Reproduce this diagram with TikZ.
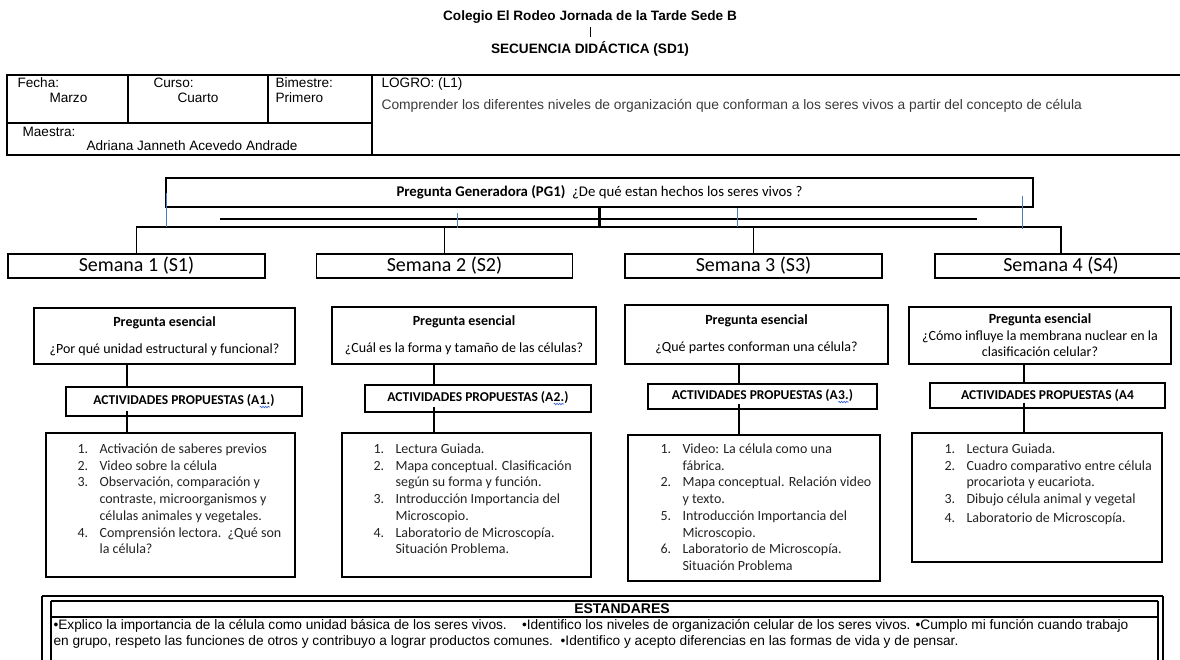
\documentclass[tikz,border=0pt]{standalone}
\usepackage{fontspec}
\setmainfont{Carlito}
\newfontfamily\arial{Liberation Sans}
\usetikzlibrary{calc,decorations.pathmorphing}
\definecolor{tickblue}{HTML}{4A7EBB}
\definecolor{squigblue}{HTML}{2E5BD8}
\definecolor{logrogray}{HTML}{3A3A3A}
\definecolor{bodytext}{HTML}{222222}
\newcommand\fsz[2]{\fontsize{#1}{#2}\selectfont}
% spell-check style wavy underline
\newcommand\squig[1]{\tikz[baseline=(sq.base)]{%
  \node[draw=none,fill=none,inner sep=0pt,outer sep=0pt,minimum width=0pt,minimum height=0pt] (sq) {#1};%
  \draw[draw=squigblue,line width=0.6pt,decorate,decoration={snake,amplitude=0.8pt,segment length=2.6pt}]
    ([yshift=-2pt]sq.south west) -- ([yshift=-2pt]sq.south east);}}
% list lines: numbered item and continuation line
\newcommand\itm[2]{\makebox[22pt][l]{#1}#2}
\newcommand\cnt[1]{\hspace*{22pt}#1}

\begin{document}
\begin{tikzpicture}[x=1pt,y=-1pt,
  line width=1.1pt,
  box/.style={draw=black, line width=1.1pt, inner sep=0pt},
  arialtxt/.style={font=\arial\fsz{13.6}{16}, inner sep=0pt},
  weekbox/.style={box, minimum height=24, font=\fsz{20}{22}},
  qbox/.style={box, align=center, font=\fsz{14}{16.5}},
  actbox/.style={box, font=\bfseries\fsz{13.5}{16}},
  listbox/.style={box},
  listtxt/.style={inner sep=0pt, align=left, text=bodytext, font=\fsz{14}{16.7}},
  link/.style={draw=black, line width=1.1pt},
  tick/.style={draw=tickblue, line width=0.9pt}
]
\useasboundingbox (0,0) rectangle (1180,659);

% ---------- heading ----------
\node[arialtxt, font=\arial\bfseries\fsz{13.6}{16}, anchor=base] (title) at (590,20) {Colegio El Rodeo Jornada de la Tarde Sede B};
\node[arialtxt, font=\arial\bfseries\fsz{13.6}{16}, anchor=base] (sd) at (590,53) {SECUENCIA DID\'ACTICA (SD1)};
\draw[line width=0.8pt] ($(title.south)+(0,4)$) -- ($(sd.north)+(0,-3)$);

% ---------- data table ----------
\draw[line width=1.2pt] (7,75) rectangle (1190,155);
\draw[line width=1.1pt] (128,75) -- (128,123) (268,75) -- (268,123)
  (372,75) -- (372,155) (7,123) -- (372,123);
\node[arialtxt, anchor=base west] (fecha) at (17,87) {Fecha:};
\node[arialtxt, anchor=base west] (marzo) at (49,102) {Marzo};
\node[arialtxt, anchor=base west] (curso) at (153,87) {Curso:};
\node[arialtxt, anchor=base west] (cuarto) at (177,102) {Cuarto};
\node[arialtxt, anchor=base west] (bim) at (275,87) {Bimestre:};
\node[arialtxt, anchor=base west] (prim) at (275,102) {Primero};
\node[arialtxt, anchor=base west] (maestra) at (22,136) {Maestra:};
\node[arialtxt, anchor=base west] (nombre) at (86,150) {Adriana Janneth Acevedo Andrade};
\node[arialtxt, anchor=base west] (logro) at (381,87) {LOGRO: (L1)};
\node[arialtxt, font=\arial\fsz{13.8}{16}, text=logrogray, anchor=base west] (logrotxt) at (381,109)
  {Comprender los diferentes niveles de organizaci\'on que conforman a los seres vivos a partir del concepto de c\'elula};

% ---------- generating question ----------
\node[box, minimum width=867, minimum height=29, font=\fsz{14.8}{16}] (pg) at (599.5,192.5)
  {\textbf{Pregunta Generadora (PG1)}\ \ ¿De qu\'e estan hechos los seres vivos ?};

% ---------- weeks ----------
\node[weekbox, minimum width=257] (S1) at (136.5,266) {Semana 1 (S1)};
\node[weekbox, minimum width=256] (S2) at (444.5,266) {Semana 2 (S2)};
\node[weekbox, minimum width=257] (S3) at (753.5,266) {Semana 3 (S3)};
\node[weekbox, minimum width=252] (S4) at (1061,266) {Semana 4 (S4)};

\coordinate (bus) at (0,227);
\coordinate (thinL) at (220,219);
\coordinate (thinR) at (977,219);
\draw[link] (S1.north) -- (S1.north |- bus) -- (S4.north |- bus) -- (S4.north);
\draw[link] (S2.north |- bus) -- (S2.north);
\draw[link] (S3.north |- bus) -- (S3.north);
\draw[link] (thinL) -- (thinR);
\draw[line width=2.4pt] (pg.south) -- (pg.south |- bus) -- (S3.north |- bus);

% blue marks over the bracket
\coordinate (m1a) at (166,193); \coordinate (m1b) at (166,227);
\coordinate (m2a) at (457,213); \coordinate (m2b) at (457,228);
\coordinate (m3a) at (737,208); \coordinate (m3b) at (737,227);
\coordinate (m4a) at (1022,196); \coordinate (m4b) at (1022,229);
\draw[tick] (m1a) -- (m1b) (m2a) -- (m2b) (m3a) -- (m3b) (m4a) -- (m4b);

% ---------- essential questions ----------
\node[qbox, minimum width=261, minimum height=56] (PE1) at (164.5,336)
  {\textbf{Pregunta esencial}\\[10.3pt]¿Por qu\'e unidad estructural y funcional?};
\node[qbox, minimum width=264, minimum height=57] (PE2) at (464,335.5)
  {\textbf{Pregunta esencial}\\[10.3pt]¿Cu\'al es la forma y tama\~no de las c\'elulas?};
\node[qbox, minimum width=263, minimum height=59] (PE3) at (756.5,334.5)
  {\textbf{Pregunta esencial}\\[10.3pt]¿Qu\'e partes conforman una c\'elula?};
\node[qbox, minimum width=262, minimum height=57] (PE4) at (1040,335.5)
  {\textbf{Pregunta esencial}\\¿C\'omo influye la membrana nuclear en la\\clasificaci\'on celular?};

% ---------- proposed activities ----------
\node[actbox, minimum width=236, minimum height=29] (A1) at (184,401.5) {ACTIVIDADES PROPUESTAS (A\squig{1.})};
\node[actbox, minimum width=226, minimum height=27] (A2) at (478,398.5) {ACTIVIDADES PROPUESTAS (A\squig{2.})};
\node[actbox, minimum width=229, minimum height=25] (A3) at (762.5,396.5) {ACTIVIDADES PROPUESTAS (A\squig{3.})};
\node[actbox, minimum width=235, minimum height=25] (A4) at (1047.5,395.5) {ACTIVIDADES PROPUESTAS (A4};

% ---------- activity lists ----------
\node[listbox, minimum width=249, minimum height=144] (L1) at (170.5,505) {};
\node[listbox, minimum width=249, minimum height=144] (L2) at (466.5,505) {};
\node[listbox, minimum width=252, minimum height=146] (L3) at (754,508) {};
\node[listbox, minimum width=250, minimum height=129] (L4) at (1037,497.5) {};

\node[listtxt, anchor=north west] (L1t) at (77,442) {\rule{0pt}{11pt}%
  \itm{1.}{Activaci\'on de saberes previos}\\
  \itm{2.}{Video sobre la c\'elula}\\
  \itm{3.}{Observaci\'on, comparaci\'on y}\\
  \cnt{contraste, microorganismos y}\\
  \cnt{c\'elulas animales y vegetales.}\\
  \itm{4.}{Comprensi\'on lectora.\ \ ¿Qu\'e son}\\
  \cnt{la c\'elula?}};
\node[listtxt, anchor=north west] (L2t) at (373,442) {\rule{0pt}{11pt}%
  \itm{1.}{Lectura Guiada.}\\
  \itm{2.}{Mapa conceptual. Clasificaci\'on}\\
  \cnt{seg\'un su forma y funci\'on.}\\
  \itm{3.}{Introducci\'on Importancia del}\\
  \cnt{Microscopio.}\\
  \itm{4.}{Laboratorio de Microscop\'ia.}\\
  \cnt{Situaci\'on Problema.}};
\node[listtxt, anchor=north west] (L3t) at (660,442) {\rule{0pt}{11pt}%
  \itm{1.}{Video: La c\'elula como una}\\
  \cnt{f\'abrica.}\\
  \itm{2.}{Mapa conceptual. Relaci\'on video}\\
  \cnt{y texto.}\\
  \itm{5.}{Introducci\'on Importancia del}\\
  \cnt{Microscopio.}\\
  \itm{6.}{Laboratorio de Microscop\'ia.}\\
  \cnt{Situaci\'on Problema}};
\node[listtxt, anchor=north west] (L4t) at (944,442) {\rule{0pt}{11pt}%
  \itm{1.}{Lectura Guiada.}\\
  \itm{2.}{Cuadro comparativo entre c\'elula}\\
  \cnt{procariota y eucariota.}\\
  \itm{3.}{Dibujo c\'elula animal y vegetal}\\[2pt]
  \itm{4.}{Laboratorio de Microscop\'ia.}};

% ---------- column connectors ----------
\coordinate (c1) at (127,0);
\coordinate (c2) at (434,0);
\coordinate (c3) at (739,0);
\coordinate (c4) at (1024,0);
\foreach \k in {1,2,3,4}{
  \draw[link] (PE\k.south -| c\k) -- (A\k.north -| c\k);
  \draw[link] ($(A\k.south -| c\k)+(0,-6)$) -- (L\k.north -| c\k);
}

% ---------- standards ----------
\draw[line width=1.1pt] (42,596) -- (1163,596) (42,596) -- (42,670) (1163,596) -- (1163,670);
\draw[line width=1.1pt] (51,601) -- (1158,601) (51,601) -- (51,670) (1158,601) -- (1158,670)
  (51,617) -- (1158,617);
\node[arialtxt, font=\arial\bfseries\fsz{14}{16}, anchor=base] (est) at (622,613) {ESTANDARES};
\node[arialtxt, font=\arial\fsz{13.7}{16.5}, anchor=north west, align=left] (esttxt) at (53,618.5)
  {\rule{0pt}{10pt}•Explico la importancia de la c\'elula como unidad b\'asica de los seres vivos.\ \ \ \ •Identifico los niveles de organizaci\'on celular de los seres vivos. •Cumplo mi funci\'on cuando trabajo\\
   en grupo, respeto las funciones de otros y contribuyo a lograr productos comunes.\ \ •Identifico y acepto diferencias en las formas de vida y de pensar.};
\end{tikzpicture}
\end{document}
